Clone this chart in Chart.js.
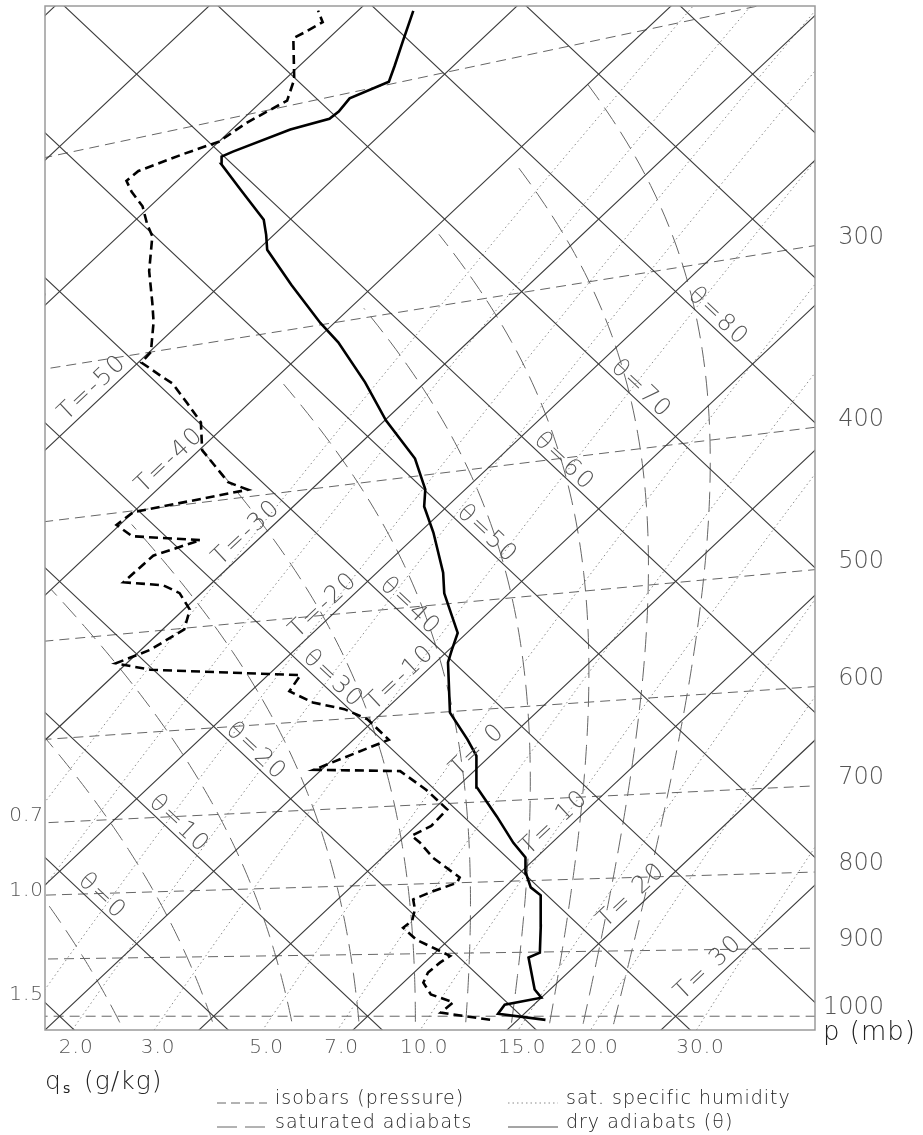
<!DOCTYPE html>
<html>
<head>
<meta charset="utf-8">
<script src="https://cdn.jsdelivr.net/npm/chart.js@4.4.1/dist/chart.umd.min.js"></script>
<style>
  html, body { margin: 0; padding: 0; background: #fff; }
  canvas { display: block; }
</style>
</head>
<body>
<canvas id="tephi" width="923" height="1135"></canvas>
<script>
// sounding (pressure in mb, temperature in C)
const tempP = [1006, 996, 981, 970, 957, 908, 901, 862, 834, 820, 809, 790, 770, 751, 718, 683, 648, 630, 601, 552,
  541, 526, 491, 474, 442, 422, 410, 388, 361, 336, 311, 299, 277, 258, 251, 244, 229, 217, 214, 213,
  209, 208, 206, 202, 199, 194, 186, 177];
const tempT = [21.8, 18.3, 18.1, 20.0, 19.0, 16.4, 16.8, 15.0, 13.6, 12.9, 11.7, 10.4, 9.3, 7.5, 4.6, 1.3, -0.9, -2.6, -5.6, -9.2,
  -9.8, -10.6, -14.2, -15.7, -19.1, -21.5, -22.6, -25.4, -29.9, -33.9, -38.4, -40.9, -45.4, -49.4, -50.5, -51.7, -55.3, -58.3, -58.8, -58.4,
  -56.2, -54.4, -54.3, -54.5, -53.1, -53.8, -55.0, -56.4];

const dewP = [1006, 994, 977, 964, 945, 929, 914, 904, 879, 861, 851, 835, 821, 812, 800, 793, 766, 746, 737, 726,
  707, 683, 660, 653, 625, 602, 590, 581, 568, 553, 536, 527, 517, 501, 484, 469, 461, 455, 436, 428,
  419, 409, 401, 395, 388, 364, 346, 333, 320, 314, 305, 300, 284, 274, 258, 242, 236, 228, 221, 216,
  213, 210, 208, 203, 198, 191, 177, 176, 174, 170];
const dewT = [18.2, 14.5, 14.6, 12.6, 11.3, 10.9, 11.0, 11.2, 7.9, 6.2, 6.3, 5.7, 4.9, 5.5, 6.6, 6.4, 3.3, 1.4, 0.4, 1.0,
  0.9, -1.8, -4.8, -10.5, -7.7, -10.5, -12.7, -15.2, -17.5, -17.9, -28.0, -30.7, -29.4, -28.6, -29.6, -31.4, -33.0, -35.8, -35.7, -33.7,
  -38.4, -40.2, -40.0, -34.1, -35.9, -39.8, -41.8, -44.0, -46.3, -47.7, -49.8, -49.9, -51.8, -53.2, -55.6, -57.8, -59.0, -60.5, -62.2, -63.3,
  -63.2, -61.5, -60.0, -59.5, -58.4, -59.4, -62.3, -62.0, -61.5, -62.6];

// background grid of the diagram
const isotherms = [-90, -80, -70, -60, -50, -40, -30, -20, -10, 0, 10, 20, 30, 40, 50];
const dryAdiabats = [-30, -20, -10, 0, 10, 20, 30, 40, 50, 60, 70, 80, 90, 100, 110, 120];
const isobars = [1000, 900, 800, 700, 600, 500, 400, 300, 200];
const pressureLabels = [1000, 900, 800, 700, 600, 500, 400, 300];
const satAdiabatT1000 = [-6.3, -0.2, 5.0, 9.4, 13.1, 16.4, 19.4, 21.9, 24.1, 26.1];
const humidityLines = [0.7, 1.0, 1.5, 2.0, 3.0, 5.0, 7.0, 10.0, 15.0, 20.0, 30.0];
const isothermLabels = [-60, -50, -40, -30, -20, -10, 0, 10, 20, 30];
const adiabatLabels = [0, 10, 20, 30, 40, 50, 60, 70, 80];

const KAPPA = 0.2857;

function theta(t, p) {
  return (t + 273.15) * Math.pow(1000 / p, KAPPA) - 273.15;
}
// tephigram plane: x along T+theta, y along theta-T
function toXY(t, th) {
  return { x: (t + th) / 2, y: (th - t) / 2 };
}
function pt(t, p) {
  return toXY(t, theta(t, p));
}

function esat(t) {
  return 6.112 * Math.exp(17.67 * t / (t + 243.5));
}

function dTdp(t, p) {
  const tk = t + 273.15;
  const es = esat(t);
  const rs = 0.622 * es / (p - es);
  const L = 2.501e6;
  const num = 287.04 * tk + L * rs;
  const den = 1005.7 + L * L * rs * 0.622 / (287.04 * tk * tk);
  return num / den / p;
}

function rk4(t, p, h) {
  const k1 = dTdp(t, p);
  const k2 = dTdp(t + h / 2 * k1, p + h / 2);
  const k3 = dTdp(t + h / 2 * k2, p + h / 2);
  const k4 = dTdp(t + h * k3, p + h);
  return t + h / 6 * (k1 + 2 * k2 + 2 * k3 + k4);
}

function satAdiabat(t0) {
  const up = [];
  const down = [];
  let t = t0, p = 1000;
  while (p > 150 && t > -40) {
    up.push(pt(t, p));
    t = rk4(t, p, -5);
    p -= 5;
  }
  t = t0; p = 1000;
  while (p < 1060) {
    t = rk4(t, p, 5);
    p += 5;
    down.unshift(pt(t, p));
  }
  return down.concat(up);
}

function humidityLine(q) {
  const pts = [];
  for (let p = 1060; p >= 150; p -= 10) {
    const qq = q / 1000;
    const e = qq * p / (0.622 + 0.378 * qq);
    const l = Math.log(e / 6.112);
    const t = 243.5 * l / (17.67 - l);
    pts.push(pt(t, p));
  }
  return pts;
}

const datasets = [];

datasets.push({
  label: "temperature",
  data: tempP.map((p, i) => pt(tempT[i], p)),
  borderColor: "#000",
  borderWidth: 2.6
});
datasets.push({
  label: "dew point",
  data: dewP.map((p, i) => pt(dewT[i], p)),
  borderColor: "#000",
  borderWidth: 2.6,
  borderDash: [9, 5]
});

isotherms.forEach((t) => {
  datasets.push({ label: "T" + t, data: [toXY(t, -200), toXY(t, 300)], borderColor: "#3a3a3a", borderWidth: 1.1 });
});
dryAdiabats.forEach((th) => {
  datasets.push({ label: "th" + th, data: [toXY(-250, th), toXY(150, th)], borderColor: "#3a3a3a", borderWidth: 1.1 });
});
isobars.forEach((p) => {
  datasets.push({ label: "p" + p, data: [pt(-160, p), pt(90, p)], borderColor: "#666", borderWidth: 1, borderDash: [10, 6] });
});
satAdiabatT1000.forEach((t0) => {
  datasets.push({ label: "sa" + t0, data: satAdiabat(t0), borderColor: "#666", borderWidth: 1, borderDash: [20, 9] });
});
const humidityData = humidityLines.map((q) => humidityLine(q));
humidityLines.forEach((q, i) => {
  datasets.push({ label: "q" + q, data: humidityData[i], borderColor: "#8a8a8a", borderWidth: 1, borderDash: [1.5, 3] });
});

// labels, frame and key
const tephiText = {
  id: "tephiText",
  afterDraw(chart) {
    const { ctx, chartArea: a } = chart;
    const sx = chart.scales.x;
    const sy = chart.scales.y;
    const toPx = (P) => ({ X: sx.getPixelForValue(P.x), Y: sy.getPixelForValue(P.y) });

    ctx.save();
    ctx.setLineDash([]);
    ctx.strokeStyle = "#9a9a9a";
    ctx.lineWidth = 1.5;
    ctx.strokeRect(a.left, a.top, a.right - a.left, a.bottom - a.top);

    // rotated labels on isotherms and dry adiabats
    ctx.save();
    ctx.beginPath();
    ctx.rect(a.left, a.top, a.right - a.left, a.bottom - a.top);
    ctx.clip();
    ctx.fillStyle = "#555";
    ctx.font = '200 24px "DejaVu Sans"';
    ctx.letterSpacing = "2px";
    ctx.textAlign = "center";
    ctx.textBaseline = "middle";
    const o = toPx({ x: 0, y: 0 });
    const e1 = toPx({ x: 0.5, y: 0.5 });
    const e2 = toPx({ x: 0.5, y: -0.5 });
    const angIso = Math.atan2(e1.Y - o.Y, e1.X - o.X);
    const angAd = Math.atan2(e2.Y - o.Y, e2.X - o.X);
    isothermLabels.forEach((t) => {
      const P = toPx(toXY(t - 1.2, 35.5));
      ctx.save();
      ctx.translate(P.X, P.Y);
      ctx.rotate(angIso);
      ctx.fillText("T=" + (t < 0 ? t : " " + t), 0, 0);
      ctx.restore();
    });
    adiabatLabels.forEach((th) => {
      const P = toPx(toXY(-15.5, th + 1.0));
      ctx.save();
      ctx.translate(P.X, P.Y);
      ctx.rotate(angAd);
      ctx.fillText("\u03b8=" + th, 0, 0);
      ctx.restore();
    });
    ctx.restore();

    // pressure labels on the right
    ctx.fillStyle = "#555";
    ctx.font = '200 24px "DejaVu Sans"';
    ctx.letterSpacing = "0px";
    ctx.textAlign = "right";
    ctx.textBaseline = "middle";
    const xr = sx.max;
    pressureLabels.forEach((p) => {
      const r = Math.pow(1000 / p, KAPPA);
      const t = (2 * xr - 273.15 * (r - 1)) / (1 + r);
      const P = toPx(pt(t, p));
      ctx.fillText(String(p), a.right + 69, P.Y - 8);
    });

    // saturation specific humidity labels
    ctx.font = '200 20px "DejaVu Sans"';
    ctx.letterSpacing = "1px";
    humidityLines.forEach((q, i) => {
      const px = humidityData[i].map(toPx);
      let done = false;
      for (let k = 0; k < px.length - 1 && !done; k++) {
        const A = px[k], B = px[k + 1];
        if ((A.Y - a.bottom) * (B.Y - a.bottom) <= 0 && A.Y !== B.Y) {
          const X = A.X + (a.bottom - A.Y) / (B.Y - A.Y) * (B.X - A.X);
          if (X >= a.left && X <= a.right) {
            ctx.textAlign = "center";
            ctx.fillText(q.toFixed(1), X + 4, a.bottom + 18);
            done = true;
          }
        }
      }
      for (let k = 0; k < px.length - 1 && !done; k++) {
        const A = px[k], B = px[k + 1];
        if ((A.X - a.left) * (B.X - a.left) <= 0 && A.X !== B.X) {
          const Y = A.Y + (a.left - A.X) / (B.X - A.X) * (B.Y - A.Y);
          if (Y >= a.top && Y <= a.bottom) {
            ctx.textAlign = "right";
            ctx.fillText(q.toFixed(1), a.left - 1, Y + (q < 1 ? 14 : 5));
            done = true;
          }
        }
      }
    });

    // axis titles
    ctx.fillStyle = "#222";
    ctx.textAlign = "left";
    ctx.textBaseline = "alphabetic";
    ctx.font = '200 26px "DejaVu Sans"';
    ctx.letterSpacing = "1px";
    ctx.fillText("p (mb)", 823, 1040);
    ctx.font = '200 25px "DejaVu Sans"';
    ctx.fillText("q", 45, 1089);
    ctx.font = '14px "DejaVu Sans"';
    ctx.fillText("s", 63, 1093);
    ctx.font = '200 25px "DejaVu Sans"';
    ctx.fillText("(g/kg)", 84, 1089);

    // key
    const key = [
      { x: 217, y: 1103, dash: [9, 5], color: "#666", text: "isobars (pressure)" },
      { x: 217, y: 1127, dash: [20, 8], color: "#666", text: "saturated adiabats" },
      { x: 508, y: 1103, dash: [1.5, 3], color: "#8a8a8a", text: "sat. specific humidity" },
      { x: 508, y: 1127, dash: [], color: "#4a4a4a", text: "dry adiabats (\u03b8)" }
    ];
    ctx.font = '200 19px "DejaVu Sans"';
    ctx.letterSpacing = "1px";
    key.forEach((k) => {
      ctx.beginPath();
      ctx.setLineDash(k.dash);
      ctx.strokeStyle = k.color;
      ctx.lineWidth = 1;
      ctx.moveTo(k.x, k.y);
      ctx.lineTo(k.x + 50, k.y);
      ctx.stroke();
      ctx.fillStyle = "#222";
      ctx.fillText(k.text, k.x + 58, k.y + 1);
    });
    ctx.restore();
  }
};

new Chart(document.getElementById("tephi"), {
  type: "scatter",
  data: { datasets: datasets },
  options: {
    responsive: false,
    animation: false,
    devicePixelRatio: 1,
    events: [],
    showLine: true,
    layout: { padding: { left: 45, right: 108, top: 6, bottom: 105 } },
    scales: {
      x: { type: "linear", min: -10.95, max: 39.05, display: false },
      y: { type: "linear", min: -0.95, max: 69.7, display: false }
    },
    elements: {
      point: { radius: 0 },
      line: { tension: 0, fill: false }
    },
    plugins: {
      legend: { display: false },
      tooltip: { enabled: false }
    }
  },
  plugins: [tephiText]
});
</script>
</body>
</html>
